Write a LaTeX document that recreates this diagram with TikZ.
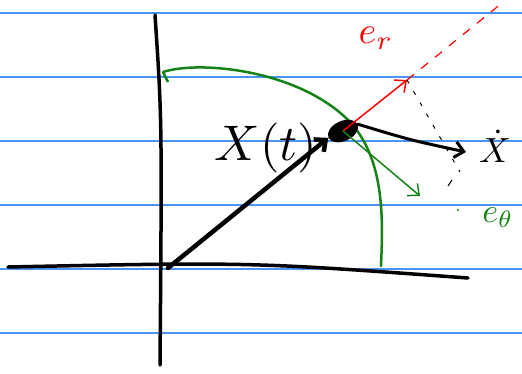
\documentclass[tikz,border=0pt]{standalone}
\usetikzlibrary{shapes.geometric, arrows.meta}
\definecolor{paperblue}{rgb}{0.3,0.58,0.95}
\definecolor{inkgreen}{RGB}{20,130,20}

\tikzset{
    vec/.style={-{Straight Barb[length=9pt,width=16pt]}, line cap=round},
    axis/.style={line width=3.5pt, line cap=round},
}

\begin{document}
\begin{tikzpicture}[x=1pt, y=-1pt]
        \useasboundingbox (0,0) rectangle (522,373);
        % ruled paper
        \foreach \y in {13,77,141,205,269,333}
            \draw[draw=paperblue, line width=1.3pt] (0,\y) -- (522,\y);
        % axes
        \coordinate (ytop) at (155,15);
        \coordinate (ybot) at (160,365);
        \coordinate (xl) at (8,267);
        \coordinate (xr) at (468,278);
        \draw[axis] (ytop) .. controls (162,120) .. (ybot);
        \draw[axis] (xl) .. controls (250,262) .. (xr);
        \coordinate (O) at (168,268);
        % path of X(t)
        \coordinate (arcA) at (163,72);
        \coordinate (arcB) at (381,266);
        \draw[inkgreen, line width=2.5pt, line cap=round]
            (arcA) .. controls (200,60) and (300,70) .. (350,122)
            .. controls (385,160) and (383,220) .. (arcB);
        \draw[inkgreen, line width=2.5pt] (arcA) -- (168,82);
        % the moving point
        \node[ellipse, fill=black, minimum width=32pt, minimum height=20pt,
            inner sep=0pt, rotate=25] (P) at (343,131) {};
        \draw[vec, line width=4.5pt] (O) -- (P.west);
        \node[scale=5] (Xt) at (266,148) {$X(t)$};
        % e_r direction
        \coordinate (erTip) at (407,80);
        \coordinate (erEnd) at (502,3);
        \draw[red, vec, line width=1.5pt] (P.center) -- (erTip);
        \draw[red, line width=1.2pt, dashed, dash pattern=on 9pt off 9pt] (erTip) -- (erEnd);
        \node[red, scale=3.8] (er) at (376,38) {$e_r$};
        % velocity
        \coordinate (vTip) at (466,152);
        \draw[vec, line width=3pt] (P.east) .. controls (410,140) .. (vTip);
        \node[scale=3.5] (Xdot) at (495,146) {$\dot X$};
        % e_theta direction
        \coordinate (etTip) at (420,196);
        \draw[inkgreen, vec, line width=1.5pt] (P.center) -- (etTip);
        \node[inkgreen, scale=3.4] (et) at (498,218) {$e_\theta$};
        \fill[inkgreen] (458,210) circle (1.2pt);
        % completing the parallelogram
        \draw[line width=1pt, dashed, dash pattern=on 4pt off 9pt] (erTip) -- (460,172);
        \draw[line width=1pt] (452,180) -- (448,186);
    \end{tikzpicture}
\end{document}
